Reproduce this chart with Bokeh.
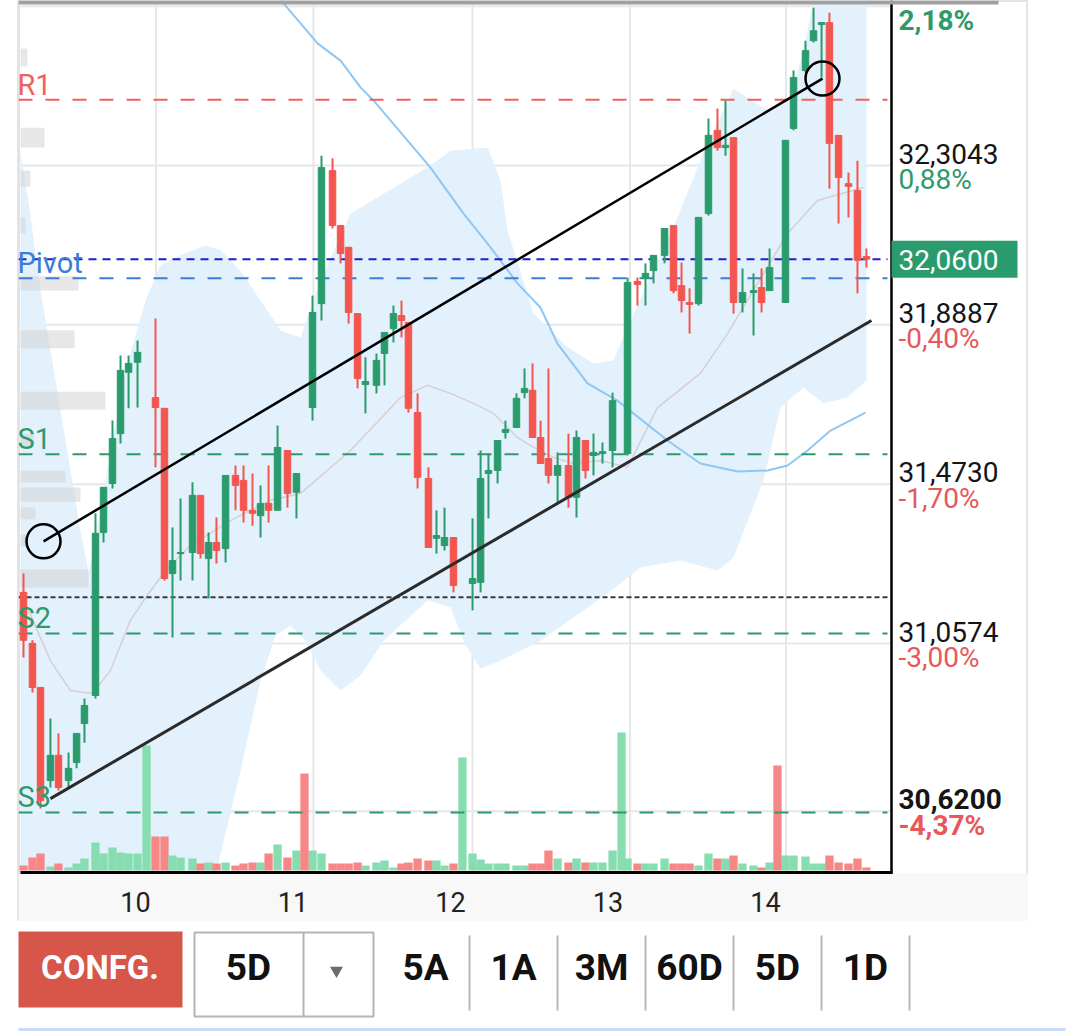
from bokeh.plotting import figure
from bokeh.models import Range1d
from bokeh.layouts import column
from bokeh.embed import file_html
from bokeh.resources import INLINE
from bokeh.core.properties import value

# ---------------- data ----------------
# candle time (fractional day of month) and OHLC
t = [9.289, 9.346, 9.397, 9.460, 9.511, 9.575, 9.626, 9.676, 9.746, 9.797, 9.854, 9.905, 9.956, 10.013,
     10.127, 10.184, 10.235, 10.286, 10.362, 10.413, 10.464, 10.514, 10.572, 10.635, 10.686, 10.743, 10.794,
     10.845, 10.902, 10.965, 11.022,
     11.124, 11.181, 11.251, 11.302, 11.353, 11.410, 11.460, 11.530, 11.581, 11.638, 11.689, 11.733, 11.791,
     11.860, 11.911, 11.962, 12.019,
     12.140, 12.191, 12.241, 12.299, 12.349, 12.419, 12.470, 12.521, 12.572, 12.622, 12.680, 12.749, 12.800,
     12.857, 12.908, 12.965, 13.029,
     13.124, 13.187, 13.238, 13.289, 13.359, 13.416, 13.467, 13.518, 13.575, 13.638, 13.695, 13.746, 13.797,
     13.854, 13.924, 13.975, 14.026,
     14.127, 14.178, 14.254, 14.305, 14.356, 14.406, 14.464, 14.527, 14.584, 14.641]
o = [31.191, 31.058, 30.943, 30.700, 30.766, 30.700, 30.747, 30.849, 30.922, 31.347, 31.475, 31.605, 31.765, 31.791,
     31.699, 31.671, 31.240, 31.292, 31.295, 31.444, 31.279, 31.321, 31.305, 31.496, 31.483, 31.405, 31.391,
     31.423, 31.405, 31.561, 31.452,
     31.673, 31.944, 32.291, 32.148, 32.091, 31.918, 31.733, 31.731, 31.814, 31.879, 31.913, 31.895, 31.660,
     31.488, 31.332, 31.313, 31.334,
     31.214, 31.217, 31.501, 31.509, 31.608, 31.621, 31.712, 31.718, 31.595, 31.540, 31.496, 31.522, 31.439,
     31.587, 31.548, 31.553, 31.561,
     31.553, 32.002, 32.010, 32.030, 32.070, 32.148, 31.991, 31.947, 31.944, 32.179, 32.396, 32.351, 32.377,
     31.947, 31.973, 31.986, 31.978,
     31.947, 32.401, 32.552, 32.630, 32.672, 32.677, 32.383, 32.257, 32.239, 32.067]
h = [31.240, 31.066, 30.943, 30.862, 30.823, 30.773, 30.823, 30.914, 31.397, 31.465, 31.639, 31.809, 31.809, 31.848,
     31.905, 31.671, 31.360, 31.436, 31.478, 31.444, 31.347, 31.386, 31.496, 31.522, 31.522, 31.501, 31.470,
     31.522, 31.626, 31.561, 31.501,
     31.965, 32.330, 32.323, 32.148, 32.091, 31.918, 31.804, 31.814, 31.869, 31.939, 31.952, 31.895, 31.710,
     31.517, 31.405, 31.412, 31.334,
     31.384, 31.561, 31.553, 31.587, 31.639, 31.710, 31.775, 31.788, 31.639, 31.775, 31.556, 31.605, 31.613,
     31.587, 31.605, 31.582, 31.712,
     32.012, 32.012, 32.049, 32.070, 32.140, 32.148, 32.051, 31.984, 32.169, 32.427, 32.453, 32.474, 32.377,
     32.036, 32.023, 32.036, 32.088,
     32.370, 32.552, 32.630, 32.716, 32.677, 32.703, 32.383, 32.286, 32.317, 32.088]
l = [31.021, 30.930, 30.627, 30.682, 30.674, 30.682, 30.732, 30.799, 30.914, 31.321, 31.462, 31.579, 31.671, 31.673,
     31.517, 31.222, 31.073, 31.222, 31.222, 31.279, 31.175, 31.266, 31.269, 31.405, 31.373, 31.365, 31.334,
     31.373, 31.405, 31.412, 31.384,
     31.639, 31.900, 32.140, 32.049, 31.892, 31.723, 31.658, 31.710, 31.731, 31.843, 31.856, 31.660, 31.462,
     31.308, 31.292, 31.300, 31.191,
     31.144, 31.191, 31.384, 31.475, 31.592, 31.621, 31.697, 31.595, 31.527, 31.475, 31.425, 31.412, 31.386,
     31.488, 31.496, 31.527, 31.517,
     31.548, 31.939, 31.939, 31.997, 32.049, 31.971, 31.921, 31.866, 31.939, 32.174, 32.343, 32.330, 31.918,
     31.921, 31.861, 31.921, 31.978,
     31.947, 32.396, 32.547, 32.625, 32.534, 32.244, 32.153, 32.169, 31.971, 32.038]
c = [31.066, 30.943, 30.648, 30.766, 30.682, 30.732, 30.823, 30.896, 31.345, 31.465, 31.592, 31.770, 31.788, 31.817,
     31.673, 31.227, 31.274, 31.295, 31.444, 31.292, 31.321, 31.300, 31.496, 31.470, 31.405, 31.397, 31.423,
     31.405, 31.569, 31.449, 31.501,
     31.921, 32.299, 32.148, 32.075, 31.921, 31.749, 31.741, 31.796, 31.869, 31.918, 31.900, 31.671, 31.491,
     31.308, 31.339, 31.334, 31.209,
     31.227, 31.488, 31.509, 31.587, 31.616, 31.697, 31.723, 31.595, 31.527, 31.496, 31.522, 31.439, 31.595,
     31.509, 31.556, 31.558, 31.691,
     31.999, 31.994, 32.023, 32.070, 32.140, 31.978, 31.952, 31.942, 32.169, 32.383, 32.351, 32.357, 31.947,
     31.973, 31.978, 31.947, 32.038,
     32.370, 32.534, 32.604, 32.656, 32.677, 32.362, 32.273, 32.250, 32.057, 32.060]
# volume (thousands) per candle
vol = [5, 13, 17, 4, 7, 3, 7, 12, 28, 17, 23, 18, 17, 17,
       34, 34, 15, 13, 12, 7, 8, 7, 8, 5, 7, 8, 8, 17, 26, 13, 20,
       20, 17, 7, 7, 7, 8, 5, 8, 10, 3, 7, 8, 12, 10, 10, 5, 7,
       17, 11, 7, 7, 7, 5, 5, 7, 7, 20, 12, 8, 12, 8, 8, 8, 20,
       12, 7, 7, 7, 12, 7, 7, 7, 5, 17, 12, 12, 15, 7, 5, 3, 8,
       15, 15, 14, 7, 7, 15, 8, 7, 12, 3]
# opening auction prints (volume only)
auction_t = [10.070, 11.073, 12.076, 13.086, 14.076]
auction_vol = [125, 97, 113, 138, 105]
auction_up = [True, False, True, True, False]

# Bollinger bands
bb_up_t = [9.270, 9.333, 9.397, 9.460, 9.524, 9.587, 9.651, 9.702, 9.746, 9.841, 9.937, 10.064, 10.159,
           10.286, 10.445, 10.540, 10.667, 10.794, 10.921, 11.048, 11.175, 11.365, 11.683, 11.892, 12.000,
           12.235, 12.318, 12.362, 12.527, 12.743, 12.908, 13.035, 13.143, 13.441, 13.632, 13.797, 14.013,
           14.159, 14.254, 14.317, 14.641]
bb_up = [32.343, 32.174, 31.978, 31.822, 31.665, 31.509, 31.352, 31.243, 31.326, 31.561, 31.770, 31.952, 32.044,
         32.070, 32.096, 32.083, 32.030, 31.952, 31.874, 31.856, 32.004, 32.179, 32.257, 32.310, 32.343,
         32.351, 32.265, 32.135, 31.918, 31.830, 31.788, 31.796, 31.900, 32.169, 32.362, 32.505, 32.448,
         32.474, 32.630, 32.761, 32.787]
bb_lo_t = [9.270, 9.778, 10.286, 10.508, 10.667, 10.794, 10.889, 10.984, 11.079, 11.175, 11.302, 11.429,
           11.575, 11.854, 12.000, 12.083, 12.191, 12.318, 12.572, 12.997, 13.206, 13.460, 13.695, 13.797,
           13.987, 14.095, 14.241, 14.368, 14.521, 14.641]
bb_lo = [30.387, 30.309, 30.335, 30.453, 30.726, 30.961, 31.078, 31.104, 31.065, 30.987, 30.935, 30.974,
         31.065, 31.170, 31.152, 31.065, 30.992, 31.013, 31.065, 31.188, 31.256, 31.274, 31.248, 31.282,
         31.483, 31.673, 31.725, 31.684, 31.699, 31.744]
sma_t = [9.321, 9.460, 9.587, 9.727, 9.841, 9.968, 10.083, 10.191, 10.349, 10.603, 10.857, 11.048, 11.365,
         11.683, 11.854, 12.000, 12.146, 12.273, 12.425, 12.527, 12.654, 12.781, 12.953, 13.124, 13.314,
         13.587, 13.759, 14.140, 14.330, 14.622]
sma = [31.144, 31.013, 30.935, 30.927, 30.987, 31.118, 31.188, 31.248, 31.313, 31.378, 31.431, 31.449, 31.561,
       31.699, 31.731, 31.710, 31.684, 31.658, 31.595, 31.569, 31.543, 31.527, 31.535, 31.517, 31.673,
       31.762, 31.866, 32.127, 32.213, 32.247]
ma_t = [10.889, 10.940, 11.156, 11.302, 11.429, 11.511, 11.873, 12.083, 12.254, 12.425, 12.571, 12.679,
        12.870, 13.060, 13.378, 13.587, 13.822, 14.013, 14.140, 14.267, 14.413, 14.635]
ma = [32.756, 32.727, 32.623, 32.578, 32.508, 32.474, 32.299, 32.179, 32.091, 31.997, 31.934, 31.840,
      31.736, 31.691, 31.587, 31.527, 31.506, 31.509, 31.522, 31.561, 31.613, 31.660]

# volume profile
vp_price = [32.586, 32.377, 32.270, 32.148, 31.997, 31.851, 31.691, 31.587, 31.493, 31.446, 31.397, 31.326, 31.227]
vp_height = [0.047, 0.052, 0.042, 0.042, 0.037, 0.047, 0.047, 0.037, 0.031, 0.037, 0.031, 0.031, 0.047]
vp_size = [7, 24, 10, 5, 58, 54, 85, 13, 45, 60, 15, 8, 68]

# pivot levels
level_names = ["R1", "Pivot", "S1", "S2", "S3"]
level_values = [32.476, 32.010, 31.551, 31.084, 30.617]
level_colors = ["#ee625d", "#3b7dd8", "#2e9a6c", "#2e9a6c", "#2e9a6c"]
last_price = 32.06
last_label = "32,0600"
support_dotted = 31.178

# channel
trend_x0 = [9.416, 9.460]
trend_y0 = [31.324, 30.653]
trend_x1 = [14.362, 14.673]
trend_y1 = [32.531, 31.900]

# axes
axis_prices = [32.72, 32.3043, 31.8887, 31.4730, 31.0574, 30.6200]
axis_price_labels = ["", "32,3043", "31,8887", "31,4730", "31,0574", "30,6200"]
axis_pct_labels = ["2,18%", "0,88%", "-0,40%", "-1,70%", "-3,00%", "-4,37%"]
axis_bold = [True, False, False, False, False, True]
day_ticks = [10, 11, 12, 13, 14]
day_labels = ["10", "11", "12", "13", "14"]
grid_days = [10.13, 11.13, 12.14, 13.14, 14.13]

tabs = ["5A", "1A", "3M", "60D", "5D", "1D"]

# ---------------- styling / layout ----------------
GREEN = "#2a9b6d"
RED = "#f4554f"
VGREEN = "#86ddb0"
VRED = "#f78787"
FONT = value("Roboto")

PX_DAY = 157.5
PX_UNIT = 383.4
X0 = 9.2572
Y0 = 32.7347


def dx(px):
    return X0 + (px - 18) / PX_DAY


def py(px):
    return Y0 - px / PX_UNIT


p = figure(width=1028, height=921, x_range=Range1d(X0, dx(1028)), y_range=Range1d(py(921), Y0),
           output_backend="svg", toolbar_location=None, x_axis_type=None, y_axis_type=None,
           min_border_left=18, min_border_right=0, min_border_top=0, min_border_bottom=0, title=None)
p.outline_line_color = "#e3e3e3"
p.outline_line_width = 3
p.background_fill_color = "white"
p.border_fill_color = "white"
p.extra_x_ranges = {"vp": Range1d(-2, 1008)}
p.extra_y_ranges = {"vol": Range1d(-51, 870)}

X_AXIS = dx(891)
X_END_LEV = dx(887)

# grid
p.segment(x0=[X0] * len(axis_prices), y0=axis_prices, x1=[X_AXIS] * len(axis_prices), y1=axis_prices,
          line_color="#e7e7e7", line_width=2)
p.segment(x0=grid_days, y0=[py(872)] * len(grid_days), x1=grid_days, y1=[Y0] * len(grid_days),
          line_color="#e7e7e7", line_width=2)

# bollinger band
p.patch(x=bb_up_t + bb_lo_t[::-1], y=bb_up + bb_lo[::-1], fill_color="#e2f1fc", line_color=None)
p.line(sma_t, sma, line_color="#d8cfcf", line_width=1.5)
p.line(ma_t, ma, line_color="#8fc7f4", line_width=2)

# volume profile
p.hbar(y=vp_price, height=vp_height, left=0, right=vp_size, x_range_name="vp",
       fill_color="#d0d0d0", fill_alpha=0.5, line_color=None)

# volume
vol_colors = [VGREEN if cc >= oo else VRED for oo, cc in zip(o, c)]
VOL_W = 8.3 / PX_DAY
p.vbar(x=t, width=VOL_W, top=vol, bottom=0, y_range_name="vol", fill_color=vol_colors, line_color=None)
p.vbar(x=auction_t, width=VOL_W, top=auction_vol, bottom=0, y_range_name="vol",
       fill_color=[VGREEN if u else VRED for u in auction_up], line_color=None)

# levels
for name, v, col in zip(level_names, level_values, level_colors):
    p.segment(x0=[X0], y0=[v], x1=[X_END_LEV], y1=[v], line_color=col, line_width=2, line_dash="14 13")
p.segment(x0=[X0], y0=[last_price], x1=[X_END_LEV], y1=[last_price], line_color="#1d1dd0",
          line_width=2, line_dash="8 6")
p.segment(x0=[X0], y0=[support_dotted], x1=[dx(889)], y1=[support_dotted], line_color="#3a3a3a",
          line_width=2, line_dash="5 3")

# candles
colors = [GREEN if cc >= oo else RED for oo, cc in zip(o, c)]
p.segment(x0=t, y0=l, x1=t, y1=h, line_color=colors, line_width=2)
p.vbar(x=t, width=6.5 / PX_DAY, top=[max(a, b) for a, b in zip(o, c)], bottom=[min(a, b) for a, b in zip(o, c)],
       fill_color=colors, line_color=colors, line_width=1)

# channel
p.segment(x0=trend_x0[:1], y0=trend_y0[:1], x1=trend_x1[:1], y1=trend_y1[:1], line_color="black", line_width=2.5)
p.segment(x0=trend_x0[1:], y0=trend_y0[1:], x1=trend_x1[1:], y1=trend_y1[1:], line_color="#2b2b2b", line_width=3)
p.scatter(x=[trend_x0[0], trend_x1[0]], y=[trend_y0[0], trend_y1[0]], size=34, marker="circle",
          fill_color=None, line_color="black", line_width=2.5)

# level labels
p.text(x=[dx(17)] * len(level_names), y=level_values, text=level_names, text_color=level_colors,
       text_font=FONT, text_font_size="29px", text_align="left", text_baseline="middle", y_offset=-15)

# x-label strip and axes lines
p.quad(left=[X0], right=[dx(1028)], top=[py(873)], bottom=[py(921)], fill_color="#f8f8f8", line_color=None)
p.segment(x0=[dx(20)], y0=[py(872)], x1=[dx(892)], y1=[py(872)], line_color="black", line_width=3)
p.segment(x0=[X_AXIS], y0=[py(873)], x1=[X_AXIS], y1=[Y0], line_color="black", line_width=2.5)
p.text(x=day_ticks, y=[py(901)] * len(day_ticks), text=day_labels, text_font=FONT, text_font_size="27px",
       text_color="#222222", text_align="center", text_baseline="middle")

# right labels
xl = dx(898)
reg = [i for i, b in enumerate(axis_bold) if not b]
bold = [i for i, b in enumerate(axis_bold) if b]
for idx, style in ((reg, "normal"), (bold, "bold")):
    p.text(x=[xl] * len(idx), y=[axis_prices[i] for i in idx], text=[axis_price_labels[i] for i in idx],
           text_font=FONT, text_font_size="28px", text_font_style=style, text_color="#151515",
           text_align="left", text_baseline="middle", y_offset=-12)
    p.text(x=[xl] * len(idx), y=[axis_prices[i] for i in idx], text=[axis_pct_labels[i] for i in idx],
           text_font=FONT, text_font_size="28px", text_font_style=style,
           text_color=["#2e9a6c" if not axis_pct_labels[i].startswith("-") else "#e8585a" for i in idx],
           text_align="left", text_baseline="middle", y_offset=14)

p.rect(x=[dx(954)], y=[last_price], width=126, height=37, width_units="screen", height_units="screen",
       fill_color="#2a9b6d", line_color=None)
p.text(x=[xl], y=[last_price], text=[last_label], text_font=FONT, text_font_size="28px", text_color="white",
       text_align="left", text_baseline="middle", y_offset=1)

# top bar
p.quad(left=[X0], right=[dx(998)], top=[Y0], bottom=[py(4)], fill_color="#a0a0a0", line_color=None)

# ---------------- button bar ----------------
q = figure(width=1080, height=110, x_range=Range1d(18, 1080), y_range=Range1d(110, 0),
           output_backend="svg", toolbar_location=None, x_axis_type=None, y_axis_type=None,
           min_border_left=18, min_border_right=0, min_border_top=0, min_border_bottom=0, title=None)
q.outline_line_color = None
q.background_fill_color = "white"
q.border_fill_color = "white"

q.quad(left=[17], right=[182], top=[10], bottom=[86], fill_color="#d7564a", line_color=None)
q.text(x=[99.5], y=[45.5], text=["CONFG."], text_font=FONT, text_font_size="33px", text_font_style="bold",
       text_color="white", text_align="center", text_baseline="middle")
q.quad(left=[194], right=[373], top=[11], bottom=[95], fill_color="white", line_color="#bab2b2", line_width=2)
q.segment(x0=[303], y0=[11], x1=[303], y1=[95], line_color="#bab2b2", line_width=2)
q.text(x=[248], y=[45.5], text=["5D"], text_font=FONT, text_font_size="37px", text_font_style="bold",
       text_color="#111111", text_align="center", text_baseline="middle")
q.scatter(x=[336], y=[49], marker="inverted_triangle", size=13, fill_color="#6b6b6b", line_color=None)

tab_x = [425 + 88 * i for i in range(len(tabs))]
sep_x = [469 + 88 * i for i in range(len(tabs))]
q.text(x=tab_x, y=[45.5] * len(tabs), text=tabs, text_font=FONT, text_font_size="37px", text_font_style="bold",
       text_color="#111111", text_align="center", text_baseline="middle")
q.segment(x0=sep_x, y0=[14] * len(sep_x), x1=sep_x, y1=[89] * len(sep_x), line_color="#bdb5b5", line_width=2)
q.segment(x0=[17], y0=[108], x1=[1065], y1=[108], line_color="#c9dcf3", line_width=3)

layout = column(p, q)
open("out.html", "w").write(file_html(layout, INLINE))
